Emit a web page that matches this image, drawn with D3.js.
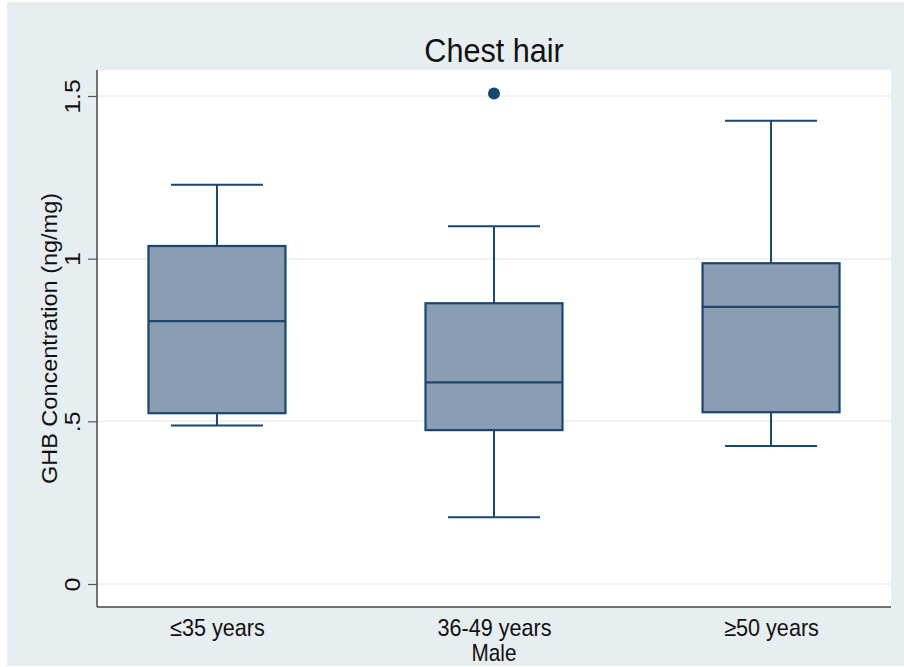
<!DOCTYPE html>
<html>
<head>
<meta charset="utf-8">
<script src="https://cdn.jsdelivr.net/npm/d3@7"></script>
<style>
  html, body { margin: 0; padding: 0; background: #fff; }
  svg { display: block; font-family: "Liberation Sans", Arial, sans-serif; }
</style>
</head>
<body>
<div id="chart"></div>
<script>
var WIDTH = 904;
var HEIGHT = 667;

// data
var groups = ["≤35 years", "36-49 years", "≥50 years"];
var lowerWhisker = [0.487, 0.205, 0.424];
var q1 = [0.525, 0.473, 0.528];
var median = [0.808, 0.620, 0.852];
var q3 = [1.039, 0.863, 0.986];
var upperWhisker = [1.227, 1.100, 1.424];
var outlierGroup = ["36-49 years"];
var outlierValue = [1.508];
var yTicks = [0, 0.5, 1, 1.5];
var yTickLabels = ["0", ".5", "1", "1.5"];

var plot = {left: 97, right: 891, top: 70, bottom: 607};
var squeeze = 0.9; // text in the picture is a bit narrow

var svg = d3.select("#chart").append("svg")
  .attr("width", WIDTH)
  .attr("height", HEIGHT);

// graph region
svg.append("rect")
  .attr("x", 7).attr("y", 2)
  .attr("width", WIDTH - 7).attr("height", 664)
  .attr("fill", "#e6eef1");

svg.append("rect")
  .attr("x", plot.left).attr("y", plot.top)
  .attr("width", plot.right - plot.left).attr("height", plot.bottom - plot.top)
  .attr("fill", "#ffffff");

var x = d3.scalePoint()
  .domain(groups)
  .range([plot.left, plot.right])
  .padding(0.433);

var y = d3.scaleLinear()
  .domain([0, 1.5])
  .range([584, 96]);

// gridlines
svg.append("g")
  .selectAll("line")
  .data(yTicks)
  .join("line")
  .attr("x1", plot.left).attr("x2", plot.right)
  .attr("y1", function(d) { return y(d); })
  .attr("y2", function(d) { return y(d); })
  .attr("stroke", "#eaf0f2")
  .attr("stroke-width", 1.5);

// y axis
var yAxis = svg.append("g")
  .attr("transform", "translate(" + plot.left + ",0)")
  .call(d3.axisLeft(y).tickValues(yTicks).tickSize(9)
    .tickFormat(function(d, i) { return yTickLabels[i]; }))
  .call(function(g) { g.select(".domain").remove(); });

yAxis.selectAll(".tick line").attr("stroke", "#555").attr("stroke-width", 1.2);
yAxis.selectAll(".tick text")
  .attr("transform", "rotate(-90) scale(1," + squeeze + ")")
  .attr("x", 0).attr("y", -17 / squeeze).attr("dy", 0)
  .attr("text-anchor", "middle")
  .attr("fill", "#111")
  .style("font-size", "25px")
  .style("font-family", "'Liberation Sans', Arial, sans-serif");

// x axis labels
var xAxis = svg.append("g")
  .attr("transform", "translate(0," + plot.bottom + ")")
  .call(d3.axisBottom(x).tickSize(0))
  .call(function(g) { g.select(".domain").remove(); });

xAxis.selectAll(".tick text")
  .attr("transform", "scale(" + squeeze + ",1)")
  .attr("y", 29).attr("dy", 0)
  .attr("fill", "#111")
  .style("font-size", "24px")
  .style("font-family", "'Liberation Sans', Arial, sans-serif");

// axis lines
svg.append("line")
  .attr("x1", plot.left).attr("x2", plot.left)
  .attr("y1", plot.top).attr("y2", plot.bottom)
  .attr("stroke", "#444").attr("stroke-width", 1.5);
svg.append("line")
  .attr("x1", plot.left).attr("x2", plot.right)
  .attr("y1", plot.bottom).attr("y2", plot.bottom)
  .attr("stroke", "#444").attr("stroke-width", 1.5);

// boxes
var boxHalf = 68.5;
var capHalf = 46;
var stroke = "#1a476f";

var boxes = svg.append("g")
  .selectAll("g")
  .data(groups)
  .join("g");

boxes.append("line")
  .attr("x1", function(d) { return x(d); })
  .attr("x2", function(d) { return x(d); })
  .attr("y1", function(d, i) { return y(upperWhisker[i]); })
  .attr("y2", function(d, i) { return y(q3[i]); })
  .attr("stroke", stroke).attr("stroke-width", 2);

boxes.append("line")
  .attr("x1", function(d) { return x(d); })
  .attr("x2", function(d) { return x(d); })
  .attr("y1", function(d, i) { return y(q1[i]); })
  .attr("y2", function(d, i) { return y(lowerWhisker[i]); })
  .attr("stroke", stroke).attr("stroke-width", 2);

boxes.append("line")
  .attr("x1", function(d) { return x(d) - capHalf; })
  .attr("x2", function(d) { return x(d) + capHalf; })
  .attr("y1", function(d, i) { return y(upperWhisker[i]); })
  .attr("y2", function(d, i) { return y(upperWhisker[i]); })
  .attr("stroke", stroke).attr("stroke-width", 2);

boxes.append("line")
  .attr("x1", function(d) { return x(d) - capHalf; })
  .attr("x2", function(d) { return x(d) + capHalf; })
  .attr("y1", function(d, i) { return y(lowerWhisker[i]); })
  .attr("y2", function(d, i) { return y(lowerWhisker[i]); })
  .attr("stroke", stroke).attr("stroke-width", 2);

boxes.append("rect")
  .attr("x", function(d) { return x(d) - boxHalf; })
  .attr("width", boxHalf * 2)
  .attr("y", function(d, i) { return y(q3[i]); })
  .attr("height", function(d, i) { return y(q1[i]) - y(q3[i]); })
  .attr("fill", "#8a9db3")
  .attr("stroke", stroke).attr("stroke-width", 2.2);

boxes.append("line")
  .attr("x1", function(d) { return x(d) - boxHalf; })
  .attr("x2", function(d) { return x(d) + boxHalf; })
  .attr("y1", function(d, i) { return y(median[i]); })
  .attr("y2", function(d, i) { return y(median[i]); })
  .attr("stroke", stroke).attr("stroke-width", 2.2);

// outliers
svg.append("g")
  .selectAll("circle")
  .data(outlierValue)
  .join("circle")
  .attr("cx", function(d, i) { return x(outlierGroup[i]); })
  .attr("cy", function(d) { return y(d); })
  .attr("r", 6)
  .attr("fill", stroke);

// titles
var mid = (plot.left + plot.right) / 2;

svg.append("text")
  .attr("transform", "translate(" + mid + ",62) scale(0.9,1)")
  .attr("text-anchor", "middle")
  .attr("fill", "#111")
  .style("font-size", "34px")
  .text("Chest hair");

svg.append("text")
  .attr("transform", "translate(" + mid + ",661) scale(" + squeeze + ",1)")
  .attr("text-anchor", "middle")
  .attr("fill", "#111")
  .style("font-size", "23px")
  .text("Male");

svg.append("text")
  .attr("transform", "translate(57," + ((plot.top + plot.bottom) / 2) + ") rotate(-90) scale(1," + squeeze + ")")
  .attr("text-anchor", "middle")
  .attr("fill", "#111")
  .style("font-size", "23.5px")
  .text("GHB Concentration (ng/mg)");
</script>
</body>
</html>
